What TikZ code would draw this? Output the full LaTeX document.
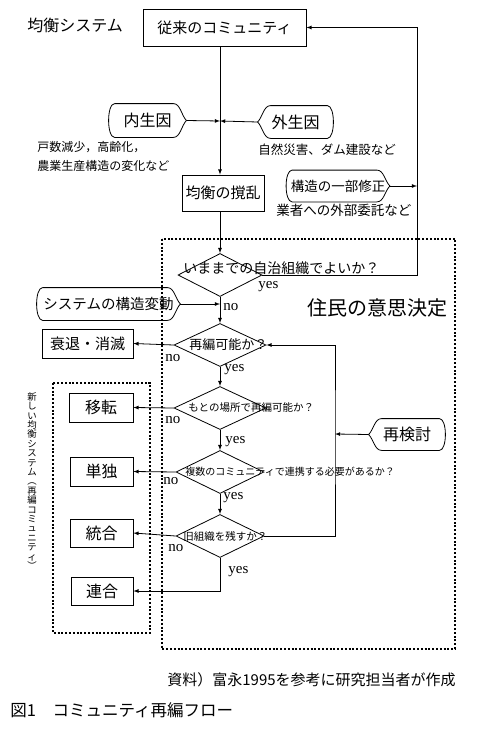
\documentclass[tikz,border=0pt]{standalone}
\usepackage{fontspec}
\setmainfont{Noto Sans CJK JP}
\newfontfamily\latinfont{Liberation Serif}
\usepackage{tikz}
\usetikzlibrary{positioning}
\usetikzlibrary{shapes.geometric}
\usetikzlibrary{arrows}
\usetikzlibrary{calc}
\newcommand{\fsize}[1]{\fontsize{#1}{#1}\selectfont}
% round on the left, pointed on the right
\newcommand{\pointR}[1]{\draw ([xshift=6pt]#1.north west) -- ([xshift=-13pt]#1.north east)
	.. controls ([xshift=-6pt]#1.north east) and ($(#1.east)!0.3!(#1.north east)+(-5,0)$) .. (#1.east)
	.. controls ($(#1.east)!0.3!(#1.south east)+(-5,0)$) and ([xshift=-6pt]#1.south east) .. ([xshift=-13pt]#1.south east)
	-- ([xshift=6pt]#1.south west)
	.. controls ([xshift=-2pt]#1.south west) and ([xshift=-2pt]#1.north west) .. ([xshift=6pt]#1.north west);}
% pointed on the left, round on the right
\newcommand{\pointL}[1]{\draw ([xshift=13pt]#1.north west) -- ([xshift=-6pt]#1.north east)
	.. controls ([xshift=2pt]#1.north east) and ([xshift=2pt]#1.south east) .. ([xshift=-6pt]#1.south east)
	-- ([xshift=13pt]#1.south west)
	.. controls ([xshift=6pt]#1.south west) and ($(#1.west)!0.3!(#1.south west)+(5,0)$) .. (#1.west)
	.. controls ($(#1.west)!0.3!(#1.north west)+(5,0)$) and ([xshift=6pt]#1.north west) .. ([xshift=13pt]#1.north west);}

\begin{document}
\begin{tikzpicture}[x=1pt, y=-1pt, line width=0.8pt]
			\tikzstyle{BoxStyle}   = [draw, inner sep=0pt, font=\fsize{15}]
			\tikzstyle{AskStyle}   = [draw, shape=diamond, inner sep=0pt, minimum width=92pt, minimum height=43pt]
			\tikzstyle{SignStyle}  = [inner sep=0pt]
			\tikzstyle{NoteStyle}  = [anchor=west, inner sep=0pt]
			\tikzstyle{TagStyle}   = [anchor=west, inner sep=0pt, font=\latinfont\fsize{15}]
			\tikzstyle{EdgeStyle}  = [->, >=latex]
			\tikzstyle{FrameStyle} = [line width=1.4pt, dash pattern=on 2pt off 1.8pt]
			\useasboundingbox (0,0) rectangle (496,731);
			%\draw[help lines] (0,0) grid (496,731);
			\draw[FrameStyle] (162,239) rectangle (455,649);
			\draw[FrameStyle] (53,383) rectangle (150,633);
			
			\node[NoteStyle, font=\fsize{16}] (eqsys) at (27,25) {均衡システム};
			\node[BoxStyle, minimum width=163pt, minimum height=37pt] (old) at (224.5,27.5) {従来のコミュニティ};
			\node[SignStyle, minimum width=77pt, minimum height=33pt, font=\fsize{16}] (inner) at (147.5,120.5) {内生因};
			\node[SignStyle, minimum width=75pt, minimum height=32pt, font=\fsize{16}] (outer) at (295.5,122) {外生因};
			\pointR{inner} \pointL{outer}
			\coordinate (meet) at (220,121);
			\node[NoteStyle, font=\fsize{12}] (innernote1) at (37,147) {戸数減少，高齢化，};
			\node[NoteStyle, font=\fsize{12}] (innernote2) at (37,166) {農業生産構造の変化など};
			\node[NoteStyle, font=\fsize{12.5}] (outernote) at (258,150) {自然災害、ダム建設など};
			\node[BoxStyle, minimum width=82pt, minimum height=36pt] (upset) at (223,193) {均衡の撹乱};
			\node[SignStyle, minimum width=103pt, minimum height=31pt, font=\fsize{13.5}] (partfix) at (338,186) {構造の一部修正};
			\pointR{partfix}
			\node[NoteStyle, font=\fsize{13.5}] (partnote) at (276,210) {業者への外部委託など};
			
			\node[AskStyle, minimum width=84pt] (ask1) at (220,275) {};
			\node[NoteStyle, font=\fsize{14}] (ask1txt) at (183,268) {いままでの自治組織でよいか？};
			\coordinate (back) at (417,275);
			\node[SignStyle, minimum width=143pt, minimum height=32pt, font=\fsize{14.5}] (shift) at (108.5,304) {システムの構造変動};
			\pointR{shift}
			\node[NoteStyle, font=\fsize{20}] (decide) at (307,308) {住民の意思決定};
			
			\node[AskStyle] (ask2) at (220,345) {};
			\node[NoteStyle, font=\fsize{13}] (ask2txt) at (189,345) {再編可能か？};
			\node[BoxStyle, minimum width=91pt, minimum height=29pt] (decline) at (87.5,343.5) {衰退・消滅};
			\node[AskStyle] (ask3) at (220,408) {};
			\node[NoteStyle, font=\fsize{10.5}] (ask3txt) at (188,408) {もとの場所で再編可能か？};
			\node[BoxStyle, minimum width=64pt, minimum height=29pt, font=\fsize{16}] (move) at (101,407.5) {移転};
			\node[SignStyle, minimum width=76pt, minimum height=31pt, font=\fsize{16}] (recheck) at (407,434.5) {再検討};
			\pointL{recheck}
			\coordinate (loop) at (335,434);
			\node[AskStyle, minimum width=88pt] (ask4) at (220,472) {};
			\node[NoteStyle, font=\fsize{10}] (ask4txt) at (185,472) {複数のコミュニティで連携する必要があるか？};
			\node[BoxStyle, minimum width=63pt, minimum height=29pt, font=\fsize{16}] (alone) at (101.5,471.5) {単独};
			\node[AskStyle, minimum width=88pt] (ask5) at (220,536) {};
			\node[NoteStyle, font=\fsize{10.5}] (ask5txt) at (183,536) {旧組織を残すか？};
			\node[BoxStyle, minimum width=63pt, minimum height=28pt, font=\fsize{16}] (merge) at (101.5,533) {統合};
			\node[BoxStyle, minimum width=62pt, minimum height=28pt, font=\fsize{16}] (union) at (102,591) {連合};
			\node[inner sep=0pt, align=center, font={\fontsize{9.4}{9.4}\selectfont\lineskiplimit=-20pt}] (newsys) at (32,481)
				{新\\し\\い\\均\\衡\\シ\\ス\\テ\\ム\\︵\\再\\編\\コ\\ミ\\ュ\\ニ\\テ\\ィ\\︶};
			
			\node[TagStyle] (yes1) at (258,287) {yes};
			\node[TagStyle] (no1) at (223,307) {no};
			\node[TagStyle] (no2) at (165,358) {no};
			\node[TagStyle] (yes2) at (224,370) {yes};
			\node[TagStyle] (no3) at (165,420) {no};
			\node[TagStyle] (yes3) at (225,442) {yes};
			\node[TagStyle] (no4) at (163,481) {no};
			\node[TagStyle] (yes4) at (223,498) {yes};
			\node[TagStyle] (no5) at (168,548) {no};
			\node[TagStyle] (yes5) at (228,572) {yes};
			
			\node[NoteStyle, font=\fsize{15}] (source) at (167,680) {資料）富永1995を参考に研究担当者が作成};
			\node[NoteStyle, font=\fsize{16.5}] (caption) at (10,710) {図1　コミュニティ再編フロー};
			
			\draw[EdgeStyle] (old.south -| ask1.north) -- (upset.north -| ask1.north);
			\draw[EdgeStyle] (inner.east) -- (meet);
			\draw[EdgeStyle] (outer.west) -- (meet);
			\draw[EdgeStyle] (upset.south -| ask1.north) -- (ask1.north);
			\draw[EdgeStyle] (ask1.east) -- (back) |- (old.east);
			\draw[EdgeStyle] (partfix.east) -- (partfix.east -| back);
			\draw[EdgeStyle] (ask1.south) -- (ask2.north);
			\draw[EdgeStyle] (shift.east) -- (shift.east -| ask1.south);
			\draw[EdgeStyle] (ask2.west) -- (decline.east);
			\draw[EdgeStyle] (ask2.south) -- (ask3.north);
			\draw[EdgeStyle] (ask3.west) -- (move.east);
			\draw[EdgeStyle] (ask3.south) -- (ask4.north);
			\draw[EdgeStyle] (ask4.west) -- (alone.east);
			\draw[EdgeStyle] (ask4.south) -- (ask5.north);
			\draw[EdgeStyle] (ask5.west) -- (merge.east);
			\draw[EdgeStyle] (ask5.south) |- (union.east);
			\draw[EdgeStyle] (ask5.east) -| (loop) |- (ask2.east);
			\draw[EdgeStyle] (recheck.west) -- (loop);
\end{tikzpicture}
\end{document}
